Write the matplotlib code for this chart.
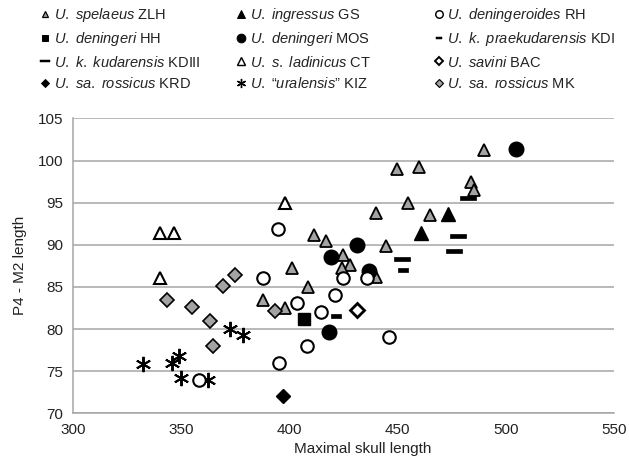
import numpy as np
import matplotlib
matplotlib.use('Agg')
import matplotlib.pyplot as plt
from matplotlib.lines import Line2D
from matplotlib.path import Path

plt.rcParams['font.family'] = ['Liberation Sans', 'DejaVu Sans']
plt.rcParams['mathtext.fontset'] = 'custom'
plt.rcParams['mathtext.it'] = 'Liberation Sans:italic'
plt.rcParams['mathtext.rm'] = 'Liberation Sans'

spelaeus_x = [450, 460, 490, 484, 485.5, 455, 440, 465, 411.5, 417, 444.5, 425, 428, 424.5, 401.5, 440, 408.5, 388, 398]
spelaeus_y = [99.0, 99.2, 101.2, 97.5, 96.5, 95.0, 93.8, 93.5, 91.2, 90.4, 89.8, 88.8, 87.6, 87.2, 87.2, 86.2, 85.0, 83.5, 82.5]
ingressus_x = [473.5, 461]
ingressus_y = [93.6, 91.4]
deningeroides_x = [395, 388, 425, 436, 403.5, 414.5, 421, 446, 408, 395.5, 358.5]
deningeroides_y = [91.9, 86.0, 86.0, 86.0, 83.1, 82.0, 84.0, 79.0, 78.0, 76.0, 74.0]
hh_x = [407]
hh_y = [81.2]
mos_x = [419.5, 431.5, 437, 418.5, 505]
mos_y = [88.6, 90.0, 86.9, 79.7, 101.4]
kdi_x = [421.5, 452.5]
kdi_y = [81.5, 87.0]
kdiii_x = [452, 478, 476, 482.5]
kdiii_y = [88.3, 91.0, 89.3, 95.5]
ladinicus_x = [340.5, 347, 340.5, 398]
ladinicus_y = [91.4, 91.4, 86.0, 95.0]
savini_x = [431.5]
savini_y = [82.3]
krd_x = [397]
krd_y = [72.1]
kiz_x = [332.5, 346, 349, 350, 362.5, 372.5, 378.5]
kiz_y = [75.9, 76.0, 76.8, 74.2, 74.0, 80.0, 79.3]
mk_x = [343.5, 355, 363.5, 369.5, 375, 365, 393.5]
mk_y = [83.5, 82.6, 81.0, 85.1, 86.4, 78.0, 82.1]

grey = '#a3a3a3'

def dash(h) :
	return Path([(-1, -h), (1, -h), (1, h), (-1, h), (-1, -h)], closed=True)

# name, x, y, marker style
series = [
	(r'$\mathit{U.\ spelaeus}$ ZLH', spelaeus_x, spelaeus_y, dict(marker='^', ms=8, mfc=grey, mec='black', mew=1.3)),
	(r'$\mathit{U.\ deningeri}$ HH', hh_x, hh_y, dict(marker='s', ms=8, mfc='black', mec='black', mew=1)),
	(r'$\mathit{U.\ k.\ kudarensis}$ KDIII', kdiii_x, kdiii_y, dict(marker=dash(0.3), ms=11.5, mfc='black', mec='black', mew=0.5)),
	(r'$\mathit{U.\ sa.\ rossicus}$ KRD', krd_x, krd_y, dict(marker='D', ms=7.5, mfc='black', mec='black', mew=1)),
	(r'$\mathit{U.\ ingressus}$ GS', ingressus_x, ingressus_y, dict(marker='^', ms=10.5, mfc='black', mec='black', mew=1)),
	(r'$\mathit{U.\ deningeri}$ MOS', mos_x, mos_y, dict(marker='o', ms=10.5, mfc='black', mec='black', mew=1)),
	(r'$\mathit{U.\ s.\ ladinicus}$ CT', ladinicus_x, ladinicus_y, dict(marker='^', ms=9, mfc='white', mec='black', mew=1.5)),
	(r'$\mathit{U.}$ “$\mathit{uralensis}$” KIZ', kiz_x, kiz_y, dict(marker=(6, 2, 0), ms=11, mfc='black', mec='black', mew=1.4)),
	(r'$\mathit{U.\ deningeroides}$ RH', deningeroides_x, deningeroides_y, dict(marker='o', ms=9, mfc='white', mec='black', mew=1.5)),
	(r'$\mathit{U.\ k.\ praekudarensis}$ KDI', kdi_x, kdi_y, dict(marker=dash(0.4), ms=7.5, mfc='black', mec='black', mew=0.5)),
	(r'$\mathit{U.\ savini}$ BAC', savini_x, savini_y, dict(marker='D', ms=7, mfc='white', mec='black', mew=2)),
	(r'$\mathit{U.\ sa.\ rossicus}$ MK', mk_x, mk_y, dict(marker='D', ms=7.5, mfc=grey, mec='black', mew=1.2)),
]

fig = plt.figure(figsize=(6.29, 4.59), dpi=100)
ax = fig.add_axes([0.1156, 0.0996, 0.8604, 0.6424])

handles = []
for name, xs, ys, st in series :
	ax.plot(xs, ys, linestyle='none', zorder=3, **st)
	#smaller copy of the marker for the legend
	hst = dict(st)
	hst['ms'] = st['ms'] * 0.6
	hst['mew'] = st['mew'] * 0.7
	handles += [Line2D([], [], linestyle='none', label=name, **hst)]

ax.set_xlim(300, 550)
ax.set_ylim(70, 105)
ax.set_xticks(np.arange(300, 551, 50))
ax.set_yticks(np.arange(70, 106, 5))
ax.grid(axis='y', color='#a6a6a6', linewidth=1.1)
ax.set_axisbelow(True)
for s in ['top', 'right'] :
	ax.spines[s].set_visible(False)
for s in ['left', 'bottom'] :
	ax.spines[s].set_color('#a6a6a6')
	ax.spines[s].set_linewidth(1.1)
ax.tick_params(length=0, labelsize=11, colors='#222222')
ax.tick_params(axis='x', pad=7)
ax.tick_params(axis='y', pad=7)

ax.set_xlabel('Maximal skull length', fontsize=11, color='#222222')
ax.set_ylabel('P4 - M2 length', fontsize=11, color='#222222')
ax.xaxis.set_label_coords(0.536, -0.098)
ax.yaxis.set_label_coords(-0.085, 0.5)

#legend in three columns, each drawn on its own
colX = [0.055, 0.367, 0.681]
for c in range(3) :
	leg = fig.legend(handles=handles[c*4:(c+1)*4], loc='upper left', bbox_to_anchor=(colX[c], 0.999),
		frameon=False, fontsize=10.5, handlelength=0.6, handletextpad=0.3, labelspacing=0.42, borderaxespad=0)
	for t in leg.get_texts() :
		t.set_color('#222222')

fig.savefig('out.png', dpi=100)
